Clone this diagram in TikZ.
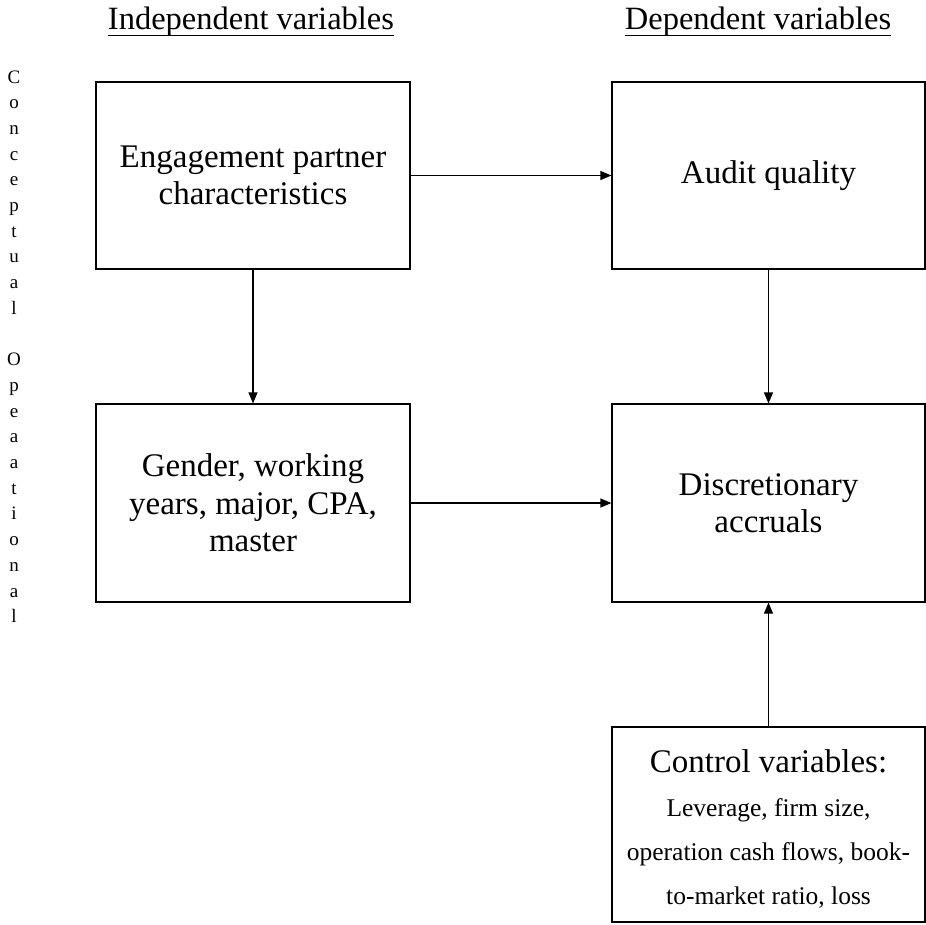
\documentclass[tikz,border=0pt]{standalone}
\usepackage{fontspec}
\setmainfont{Liberation Serif}
\usetikzlibrary{arrows.meta}
\begin{document}
\begin{tikzpicture}[x=1pt,y=-1pt,
  box/.style={draw,line width=1.2pt,inner sep=0pt,align=center,font=\fontsize{33}{37.5}\selectfont},
  arr/.style={line width=1.2pt,-{Triangle[length=11pt,width=9pt]}},
  hdr/.style={font=\fontsize{32.5}{36}\selectfont,inner sep=0pt,anchor=base},
  vl/.style={font=\fontsize{19}{20}\selectfont,inner sep=0pt,anchor=base}]
\useasboundingbox (0,0) rectangle (926,924);

% headers
\node[hdr] (h1) at (251,29.5) {Independent variables};
\node[hdr] (h2) at (758,29.5) {Dependent variables};
\draw[line width=1pt] ([yshift=-5.5pt]h1.base west) -- ([yshift=-5.5pt]h1.base east);
\draw[line width=1pt] ([yshift=-5.5pt]h2.base west) -- ([yshift=-5.5pt]h2.base east);

% vertical letters
\foreach \ch [count=\i from 0] in {C,o,n,c,e,p,t,u,a,l}
  \node[vl] (va\i) at (14,83+25.7*\i) {\ch};
\foreach \ch [count=\i from 11] in {O,p,e,a,a,t,i,o,n,a,l}
  \node[vl] (vb\i) at (14,83+25.7*\i) {\ch};

% boxes
\node[box,minimum width=314pt,minimum height=187pt] (A) at (253,175.5) {Engagement partner\\characteristics};
\node[box,minimum width=313pt,minimum height=187pt] (B) at (768.5,175.5) {Audit quality};
\node[box,minimum width=314pt,minimum height=198pt] (C) at (253,503) {Gender, working\\years, major, CPA,\\master};
\node[box,minimum width=313pt,minimum height=198pt] (D) at (768.5,503) {Discretionary\\accruals};
\node[draw,line width=1.2pt,minimum width=313pt,minimum height=195pt,inner sep=0pt] (E) at (768.5,824.5) {};
\node[align=center,inner sep=0pt,font=\fontsize{25.5}{44}\selectfont] (Et) at (768.5,829)
  {{\fontsize{33}{44}\selectfont Control variables:}\\Leverage, firm size,\\operation cash flows, book-\\to-market ratio, loss};

% connectors
\draw[arr] (A) -- (B);
\draw[arr] (A) -- (C);
\draw[arr] (B) -- (D);
\draw[arr] (C) -- (D);
\draw[arr] (E) -- (D);
\end{tikzpicture}
\end{document}
